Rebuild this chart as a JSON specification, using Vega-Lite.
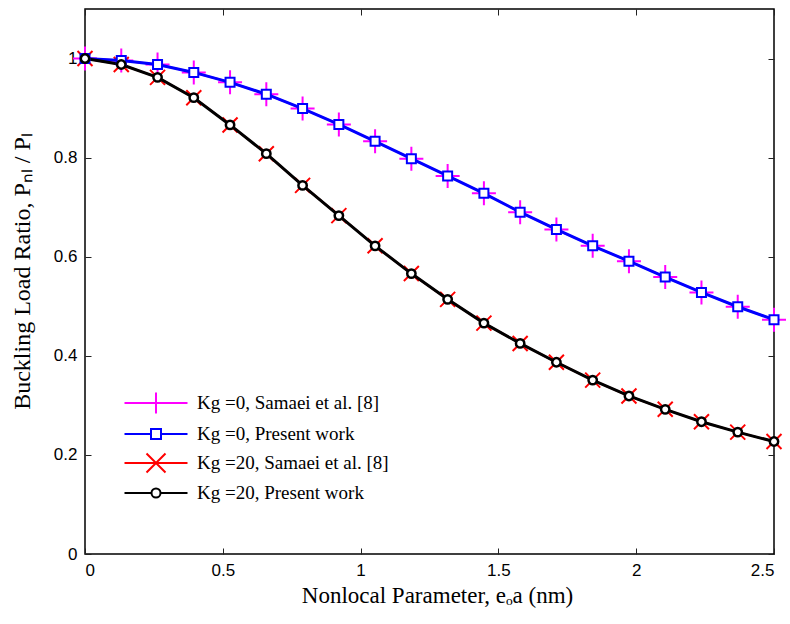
{
  "$schema": "https://vega.github.io/schema/vega-lite/v6.json",
  "autosize": "none",
  "width": 689,
  "height": 545,
  "padding": {"left": 85, "top": 9, "right": 16, "bottom": 70},
  "background": "white",
  "config": {
    "view": {"stroke": "black", "strokeWidth": 1.5},
    "axis": {
      "domain": false,
      "grid": false,
      "labelFont": "Liberation Sans",
      "labelFontSize": 17,
      "labelColor": "black",
      "tickColor": "#222",
      "tickWidth": 1,
      "tickSize": -6,
      "labelPadding": 14,
      "titleFont": "Liberation Serif",
      "titleFontSize": 24,
      "titleFontWeight": "normal",
      "titleColor": "black"
    }
  },
  "data": {
    "values": [
      {"x": 0, "y": 1, "series": "Kg =0, Present work"},
      {"x": 0.1316, "y": 0.996, "series": "Kg =0, Present work"},
      {"x": 0.2632, "y": 0.988, "series": "Kg =0, Present work"},
      {"x": 0.3947, "y": 0.972, "series": "Kg =0, Present work"},
      {"x": 0.5263, "y": 0.952, "series": "Kg =0, Present work"},
      {"x": 0.6579, "y": 0.928, "series": "Kg =0, Present work"},
      {"x": 0.7895, "y": 0.899, "series": "Kg =0, Present work"},
      {"x": 0.9211, "y": 0.867, "series": "Kg =0, Present work"},
      {"x": 1.0526, "y": 0.833, "series": "Kg =0, Present work"},
      {"x": 1.1842, "y": 0.798, "series": "Kg =0, Present work"},
      {"x": 1.3158, "y": 0.763, "series": "Kg =0, Present work"},
      {"x": 1.4474, "y": 0.728, "series": "Kg =0, Present work"},
      {"x": 1.5789, "y": 0.690, "series": "Kg =0, Present work"},
      {"x": 1.7105, "y": 0.655, "series": "Kg =0, Present work"},
      {"x": 1.8421, "y": 0.622, "series": "Kg =0, Present work"},
      {"x": 1.9737, "y": 0.591, "series": "Kg =0, Present work"},
      {"x": 2.1053, "y": 0.559, "series": "Kg =0, Present work"},
      {"x": 2.2368, "y": 0.528, "series": "Kg =0, Present work"},
      {"x": 2.3684, "y": 0.499, "series": "Kg =0, Present work"},
      {"x": 2.5, "y": 0.473, "series": "Kg =0, Present work"},
      {"x": 0, "y": 1, "series": "Kg =0, Samaei et al. [8]"},
      {"x": 0.1316, "y": 0.996, "series": "Kg =0, Samaei et al. [8]"},
      {"x": 0.2632, "y": 0.988, "series": "Kg =0, Samaei et al. [8]"},
      {"x": 0.3947, "y": 0.972, "series": "Kg =0, Samaei et al. [8]"},
      {"x": 0.5263, "y": 0.952, "series": "Kg =0, Samaei et al. [8]"},
      {"x": 0.6579, "y": 0.928, "series": "Kg =0, Samaei et al. [8]"},
      {"x": 0.7895, "y": 0.899, "series": "Kg =0, Samaei et al. [8]"},
      {"x": 0.9211, "y": 0.867, "series": "Kg =0, Samaei et al. [8]"},
      {"x": 1.0526, "y": 0.833, "series": "Kg =0, Samaei et al. [8]"},
      {"x": 1.1842, "y": 0.798, "series": "Kg =0, Samaei et al. [8]"},
      {"x": 1.3158, "y": 0.763, "series": "Kg =0, Samaei et al. [8]"},
      {"x": 1.4474, "y": 0.728, "series": "Kg =0, Samaei et al. [8]"},
      {"x": 1.5789, "y": 0.690, "series": "Kg =0, Samaei et al. [8]"},
      {"x": 1.7105, "y": 0.655, "series": "Kg =0, Samaei et al. [8]"},
      {"x": 1.8421, "y": 0.622, "series": "Kg =0, Samaei et al. [8]"},
      {"x": 1.9737, "y": 0.591, "series": "Kg =0, Samaei et al. [8]"},
      {"x": 2.1053, "y": 0.559, "series": "Kg =0, Samaei et al. [8]"},
      {"x": 2.2368, "y": 0.528, "series": "Kg =0, Samaei et al. [8]"},
      {"x": 2.3684, "y": 0.499, "series": "Kg =0, Samaei et al. [8]"},
      {"x": 2.5, "y": 0.473, "series": "Kg =0, Samaei et al. [8]"},
      {"x": 0, "y": 1, "series": "Kg =20, Present work"},
      {"x": 0.1316, "y": 0.988, "series": "Kg =20, Present work"},
      {"x": 0.2632, "y": 0.962, "series": "Kg =20, Present work"},
      {"x": 0.3947, "y": 0.921, "series": "Kg =20, Present work"},
      {"x": 0.5263, "y": 0.866, "series": "Kg =20, Present work"},
      {"x": 0.6579, "y": 0.808, "series": "Kg =20, Present work"},
      {"x": 0.7895, "y": 0.744, "series": "Kg =20, Present work"},
      {"x": 0.9211, "y": 0.683, "series": "Kg =20, Present work"},
      {"x": 1.0526, "y": 0.622, "series": "Kg =20, Present work"},
      {"x": 1.1842, "y": 0.566, "series": "Kg =20, Present work"},
      {"x": 1.3158, "y": 0.514, "series": "Kg =20, Present work"},
      {"x": 1.4474, "y": 0.466, "series": "Kg =20, Present work"},
      {"x": 1.5789, "y": 0.425, "series": "Kg =20, Present work"},
      {"x": 1.7105, "y": 0.387, "series": "Kg =20, Present work"},
      {"x": 1.8421, "y": 0.351, "series": "Kg =20, Present work"},
      {"x": 1.9737, "y": 0.319, "series": "Kg =20, Present work"},
      {"x": 2.1053, "y": 0.292, "series": "Kg =20, Present work"},
      {"x": 2.2368, "y": 0.267, "series": "Kg =20, Present work"},
      {"x": 2.3684, "y": 0.246, "series": "Kg =20, Present work"},
      {"x": 2.5, "y": 0.227, "series": "Kg =20, Present work"},
      {"x": 0, "y": 1, "series": "Kg =20, Samaei et al. [8]"},
      {"x": 0.1316, "y": 0.988, "series": "Kg =20, Samaei et al. [8]"},
      {"x": 0.2632, "y": 0.962, "series": "Kg =20, Samaei et al. [8]"},
      {"x": 0.3947, "y": 0.921, "series": "Kg =20, Samaei et al. [8]"},
      {"x": 0.5263, "y": 0.866, "series": "Kg =20, Samaei et al. [8]"},
      {"x": 0.6579, "y": 0.808, "series": "Kg =20, Samaei et al. [8]"},
      {"x": 0.7895, "y": 0.744, "series": "Kg =20, Samaei et al. [8]"},
      {"x": 0.9211, "y": 0.683, "series": "Kg =20, Samaei et al. [8]"},
      {"x": 1.0526, "y": 0.622, "series": "Kg =20, Samaei et al. [8]"},
      {"x": 1.1842, "y": 0.566, "series": "Kg =20, Samaei et al. [8]"},
      {"x": 1.3158, "y": 0.514, "series": "Kg =20, Samaei et al. [8]"},
      {"x": 1.4474, "y": 0.466, "series": "Kg =20, Samaei et al. [8]"},
      {"x": 1.5789, "y": 0.425, "series": "Kg =20, Samaei et al. [8]"},
      {"x": 1.7105, "y": 0.387, "series": "Kg =20, Samaei et al. [8]"},
      {"x": 1.8421, "y": 0.351, "series": "Kg =20, Samaei et al. [8]"},
      {"x": 1.9737, "y": 0.319, "series": "Kg =20, Samaei et al. [8]"},
      {"x": 2.1053, "y": 0.292, "series": "Kg =20, Samaei et al. [8]"},
      {"x": 2.2368, "y": 0.267, "series": "Kg =20, Samaei et al. [8]"},
      {"x": 2.3684, "y": 0.246, "series": "Kg =20, Samaei et al. [8]"},
      {"x": 2.5, "y": 0.227, "series": "Kg =20, Samaei et al. [8]"}
    ]
  },
  "encoding": {
    "color": {
      "field": "series",
      "type": "nominal",
      "scale": {
        "domain": ["Kg =0, Samaei et al. [8]", "Kg =0, Present work", "Kg =20, Samaei et al. [8]", "Kg =20, Present work"],
        "range": ["#ff00ff", "#0000ff", "#ff0000", "#000000"]
      },
      "legend": {
        "title": null,
        "orient": "none",
        "legendX": 60,
        "legendY": 383,
        "padding": 0,
        "labelFont": "Liberation Serif",
        "labelFontSize": 19,
        "labelColor": "black",
        "labelOffset": 30,
        "symbolSize": 400,
        "symbolStrokeWidth": 2,
        "rowPadding": 5,
        "labelLimit": 400,
        "encode": {
          "symbols": {
            "update": {
              "shape": {"signal": "datum.value === 'Kg =0, Samaei et al. [8]' ? 'M-3.15,0H3.15M0,-1.05V1.05' : datum.value === 'Kg =0, Present work' ? 'M-3.15,0H-0.5M0.5,0H3.15M-0.5,-0.5H0.5V0.5H-0.5Z' : datum.value === 'Kg =20, Samaei et al. [8]' ? 'M-3.15,0H3.15M-0.95,-0.95L0.95,0.95M-0.95,0.95L0.95,-0.95' : 'M-3.15,0H-0.45M0.45,0H3.15M-0.45,0A0.45,0.45 0 1,0 0.45,0A0.45,0.45 0 1,0 -0.45,0Z'"},
              "fill": {"value": "white"},
              "fillOpacity": {"value": 1},
              "stroke": {"scale": "color", "field": "value"},
              "strokeWidth": {"value": 2},
              "opacity": {"value": 1}
            }
          }
        }
      }
    }
  },
  "layer": [
    {
      "transform": [{"filter": "indexof(datum.series, 'Samaei') >= 0"}],
      "mark": {"type": "line", "strokeWidth": 2},
      "encoding": {
        "x": {
          "field": "x", "type": "quantitative",
          "scale": {"domain": [0, 2.5], "nice": false, "zero": false},
          "axis": {"orient": "bottom", "values": [0, 0.5, 1, 1.5, 2, 2.5], "format": ".1~f", "title": "Nonlocal Parameter, eₒa  (nm)", "titlePadding": 6, "titleFontSize": 23, "titleX": 352}
        },
        "y": {
          "field": "y", "type": "quantitative",
          "scale": {"domain": [0, 1.1], "nice": false, "zero": false},
          "axis": {"orient": "left", "values": [0, 0.2, 0.4, 0.6, 0.8, 1], "format": ".1~f", "title": "Buckling Load Ratio, Pₙₗ / Pₗ", "titlePadding": 19, "titleY": 262}
        }
      }
    },
    {
      "transform": [{"filter": "datum.series === 'Kg =0, Samaei et al. [8]'"}],
      "mark": {"type": "point", "shape": "M-1,0H1M0,-1V1", "size": 576, "filled": false, "strokeWidth": 2, "opacity": 1},
      "encoding": {
        "x": {"field": "x", "type": "quantitative", "axis": null},
        "y": {"field": "y", "type": "quantitative", "axis": null}
      }
    },
    {
      "transform": [{"filter": "datum.series === 'Kg =20, Samaei et al. [8]'"}],
      "mark": {"type": "point", "shape": "M-1,-1L1,1M-1,1L1,-1", "size": 225, "filled": false, "strokeWidth": 2, "opacity": 1},
      "encoding": {
        "x": {"field": "x", "type": "quantitative", "axis": null},
        "y": {"field": "y", "type": "quantitative", "axis": null}
      }
    },
    {
      "transform": [{"filter": "indexof(datum.series, 'Present') >= 0"}],
      "mark": {"type": "line", "strokeWidth": 3},
      "encoding": {
        "x": {
          "field": "x", "type": "quantitative",
          "axis": {"orient": "top", "values": [0, 0.5, 1, 1.5, 2, 2.5], "labels": false, "title": null}
        },
        "y": {
          "field": "y", "type": "quantitative",
          "axis": {"orient": "right", "values": [0, 0.2, 0.4, 0.6, 0.8, 1], "labels": false, "title": null}
        }
      }
    },
    {
      "transform": [{"filter": "datum.series === 'Kg =0, Present work'"}],
      "mark": {"type": "point", "shape": "square", "size": 81, "filled": false, "fill": "white", "fillOpacity": 1, "strokeWidth": 2, "opacity": 1},
      "encoding": {
        "x": {"field": "x", "type": "quantitative", "axis": null},
        "y": {"field": "y", "type": "quantitative", "axis": null}
      }
    },
    {
      "transform": [{"filter": "datum.series === 'Kg =20, Present work'"}],
      "mark": {"type": "point", "shape": "circle", "size": 70, "filled": false, "fill": "white", "fillOpacity": 1, "strokeWidth": 2.5, "opacity": 1},
      "encoding": {
        "x": {"field": "x", "type": "quantitative", "axis": null},
        "y": {"field": "y", "type": "quantitative", "axis": null}
      }
    }
  ],
  "resolve": {"axis": {"x": "independent", "y": "independent"}}
}
